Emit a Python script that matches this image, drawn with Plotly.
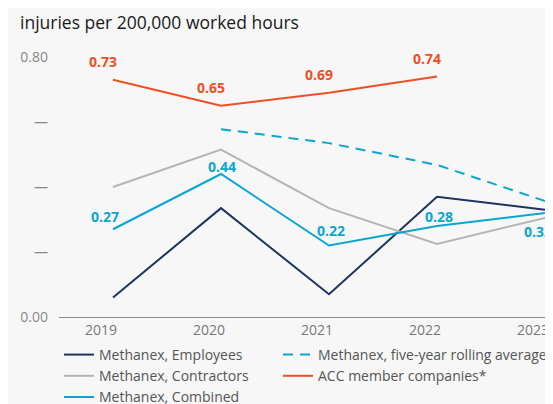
import plotly.graph_objects as go

years = [2019, 2020, 2021, 2022, 2023]
employees = [0.06, 0.335, 0.07, 0.37, 0.33]
contractors = [0.40, 0.515, 0.335, 0.225, 0.305]
combined = [0.27, 0.44, 0.22, 0.28, 0.32]
rolling_years = [2020, 2021, 2022, 2023]
rolling = [0.578, 0.535, 0.468, 0.357]
acc_years = [2019, 2020, 2021, 2022]
acc = [0.73, 0.65, 0.69, 0.74]

NAVY = "#1d355e"
GRAY = "#b5b5b5"
CYAN = "#0aa6d2"
ORANGE = "#f04f25"
BG = "#f7f7f7"
FONT = "Open Sans"

W, H = 545, 396

fig = go.Figure()
fig.add_trace(go.Scatter(x=years, y=employees, mode="lines", name="Methanex, Employees",
                         line=dict(color=NAVY, width=2), legend="legend"))
fig.add_trace(go.Scatter(x=rolling_years, y=rolling, mode="lines", name="Methanex, five-year rolling average",
                         line=dict(color=CYAN, width=2, dash="10px,7px"), legend="legend2"))
fig.add_trace(go.Scatter(x=years, y=contractors, mode="lines", name="Methanex, Contractors",
                         line=dict(color=GRAY, width=2), legend="legend"))
fig.add_trace(go.Scatter(x=acc_years, y=acc, mode="lines", name="ACC member companies*",
                         line=dict(color=ORANGE, width=2), legend="legend2"))
fig.add_trace(go.Scatter(x=years, y=combined, mode="lines", name="Methanex, Combined",
                         line=dict(color=CYAN, width=2), legend="legend"))

# value labels
acc_shift = (-10, 18)
comb_shifts = [(-8, 13), (1, 8), (2, 15), (2, 10), (-7, -18)]
for xv, yv in zip(acc_years, acc):
    fig.add_annotation(x=xv, y=yv, text=f"{yv:.2f}", showarrow=False,
                       xshift=acc_shift[0], yshift=acc_shift[1],
                       font=dict(family=FONT, size=14, color=ORANGE, weight="bold"))
for (xv, yv), (dx, dy) in zip(zip(years, combined), comb_shifts):
    fig.add_annotation(x=xv, y=yv, text=f"{yv:.2f}", showarrow=False,
                       xshift=dx, yshift=dy,
                       font=dict(family=FONT, size=14, color=CYAN, weight="bold"))

legend_style = dict(orientation="v", xanchor="left", y=1 - 331 / H, yanchor="top",
                    xref="container", yref="container",
                    font=dict(family=FONT, size=14, color="#555555"),
                    bgcolor="rgba(0,0,0,0)", itemwidth=30, tracegroupgap=0,
                    traceorder="normal")

fig.update_layout(
    width=W, height=H,
    margin=dict(l=51, r=0, t=49, b=87, autoexpand=False),
    paper_bgcolor=BG, plot_bgcolor=BG,
    font=dict(family=FONT, color="#777777", size=14),
    title=dict(text="injuries per 200,000 worked hours", x=12 / W, xanchor="left",
               xref="container", y=1 - 15 / H, yanchor="middle", yref="container",
               font=dict(family=FONT, size=17.5, color="#1a1a1a", weight=500)),
    showlegend=True,
    legend=dict(x=51 / W, **legend_style),
    legend2=dict(x=270 / W, **legend_style),
    xaxis=dict(range=[2018.5, 2023.074], tickvals=years, ticktext=[str(y) for y in years],
               showgrid=False, zeroline=False, showline=True, linecolor="#8a8a8a", linewidth=1,
               ticks="", tickfont=dict(size=14, color="#777777"), fixedrange=True,
               ticklabelshift=-12,
               automargin=False, ticklabeloverflow="allow"),
    yaxis=dict(range=[0, 0.8], tickvals=[0, 0.2, 0.4, 0.6, 0.8],
               ticktext=["0.00", "—", "—", "—", "0.80"],
               showgrid=False, zeroline=False, showline=False, ticks="",
               ticklabelstandoff=10, automargin=False,
               tickfont=dict(size=14, color="#888888"), fixedrange=True),
)

fig.write_html("out.html")
